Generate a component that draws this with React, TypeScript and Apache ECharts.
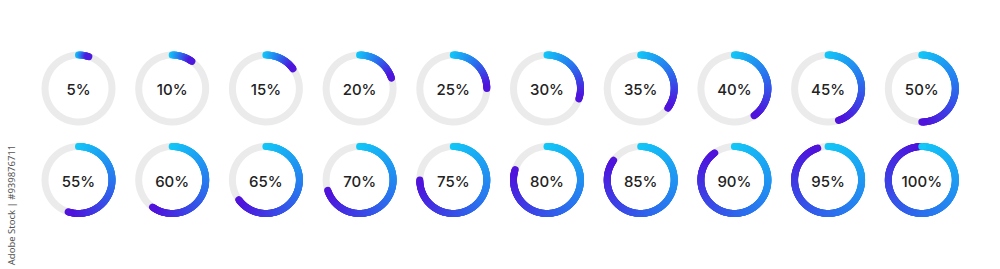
import React, { useEffect, useRef } from "react";
import * as echarts from "echarts";

const VALUES = [5, 10, 15, 20, 25, 30, 35, 40, 45, 50, 55, 60, 65, 70, 75, 80, 85, 90, 95, 100];
const LABELS = ["5%", "10%", "15%", "20%", "25%", "30%", "35%", "40%", "45%", "50%", "55%", "60%", "65%", "70%", "75%", "80%", "85%", "90%", "95%", "100%"];
const GRADIENT_STOPS = ["#12c9f7", "#2a72ee", "#5012dc"];
const WATERMARK = "Adobe Stock | #939876711";

const COLS = 10;
const X0 = 78.5;
const DX = 93.7;
const ROW_Y = [88.5, 180];
const R_IN = 30;
const R_OUT = 37;

function hexToRgb(h: string) {
  const n = parseInt(h.slice(1), 16);
  return [(n >> 16) & 255, (n >> 8) & 255, n & 255];
}
function mix(t: number) {
  const seg = GRADIENT_STOPS.length - 1;
  const s = Math.min(seg - 1, Math.floor(t * seg));
  const f = t * seg - s;
  const a = hexToRgb(GRADIENT_STOPS[s]);
  const b = hexToRgb(GRADIENT_STOPS[s + 1]);
  const c = a.map((x, i) => Math.round(x + (b[i] - x) * f));
  return `rgb(${c[0]},${c[1]},${c[2]})`;
}

export default function App() {
  const ref = useRef<HTMLDivElement>(null);
  useEffect(() => {
    document.body.style.margin = "0";
    const chart = echarts.init(ref.current!, undefined, { renderer: "svg" });
    const polar: any[] = [];
    const angleAxis: any[] = [];
    const radiusAxis: any[] = [];
    const series: any[] = [];
    VALUES.forEach((v, i) => {
      const col = i % COLS;
      const row = Math.floor(i / COLS);
      polar.push({ center: [X0 + col * DX, ROW_Y[row]], radius: [R_IN, R_OUT] });
      angleAxis.push({ polarIndex: i, type: "value", min: 0, max: 100, startAngle: 90, clockwise: true, show: false });
      radiusAxis.push({ polarIndex: i, type: "value", min: 0, max: 1, show: false });
      series.push({
        type: "custom",
        coordinateSystem: "polar",
        polarIndex: i,
        data: [[0.5, v]],
        renderItem: (params: any, api: any) => {
          const cs = params.coordSys;
          const val = api.value(1);
          const rMid = (cs.r + cs.r0) / 2;
          const w = cs.r - cs.r0;
          const children: any[] = [
            {
              type: "circle",
              shape: { cx: cs.cx, cy: cs.cy, r: rMid },
              style: { fill: "none", stroke: "#ebebeb", lineWidth: w },
            },
          ];
          const n = Math.max(6, Math.round(val * 2));
          const segs: any[] = [];
          for (let k = 0; k < n; k++) {
            const p1 = api.coord([0.5, (val * k) / n]);
            const p2 = api.coord([0.5, (val * (k + 1)) / n]);
            segs.push({
              type: "line",
              shape: { x1: p1[0], y1: p1[1], x2: p2[0], y2: p2[1] },
              style: { stroke: mix((k + 0.5) / n), lineWidth: w, lineCap: "round" },
            });
          }
          if (val >= 100) {
            segs.push(segs.shift());
          }
          children.push(...segs);
          children.push({
            type: "text",
            style: {
              text: LABELS[i],
              x: cs.cx,
              y: cs.cy + 1,
              align: "center",
              verticalAlign: "middle",
              fontSize: 15,
              fontWeight: 500,
              fontFamily: "Inter",
              fill: "#222222",
            },
          });
          return { type: "group", children };
        },
      });
    });
    chart.setOption({
      animation: false,
      backgroundColor: "#ffffff",
      polar,
      angleAxis,
      radiusAxis,
      series,
      graphic: [
        {
          type: "text",
          x: 11,
          y: 205,
          rotation: Math.PI / 2,
          style: {
            text: WATERMARK,
            align: "center",
            verticalAlign: "middle",
            fontSize: 9.5,
            fontFamily: "Noto Sans",
            fill: "#555555",
          },
        },
      ],
    });
    return () => chart.dispose();
  }, []);
  return <div ref={ref} style={{ width: 1000, height: 269 }} />;
}
